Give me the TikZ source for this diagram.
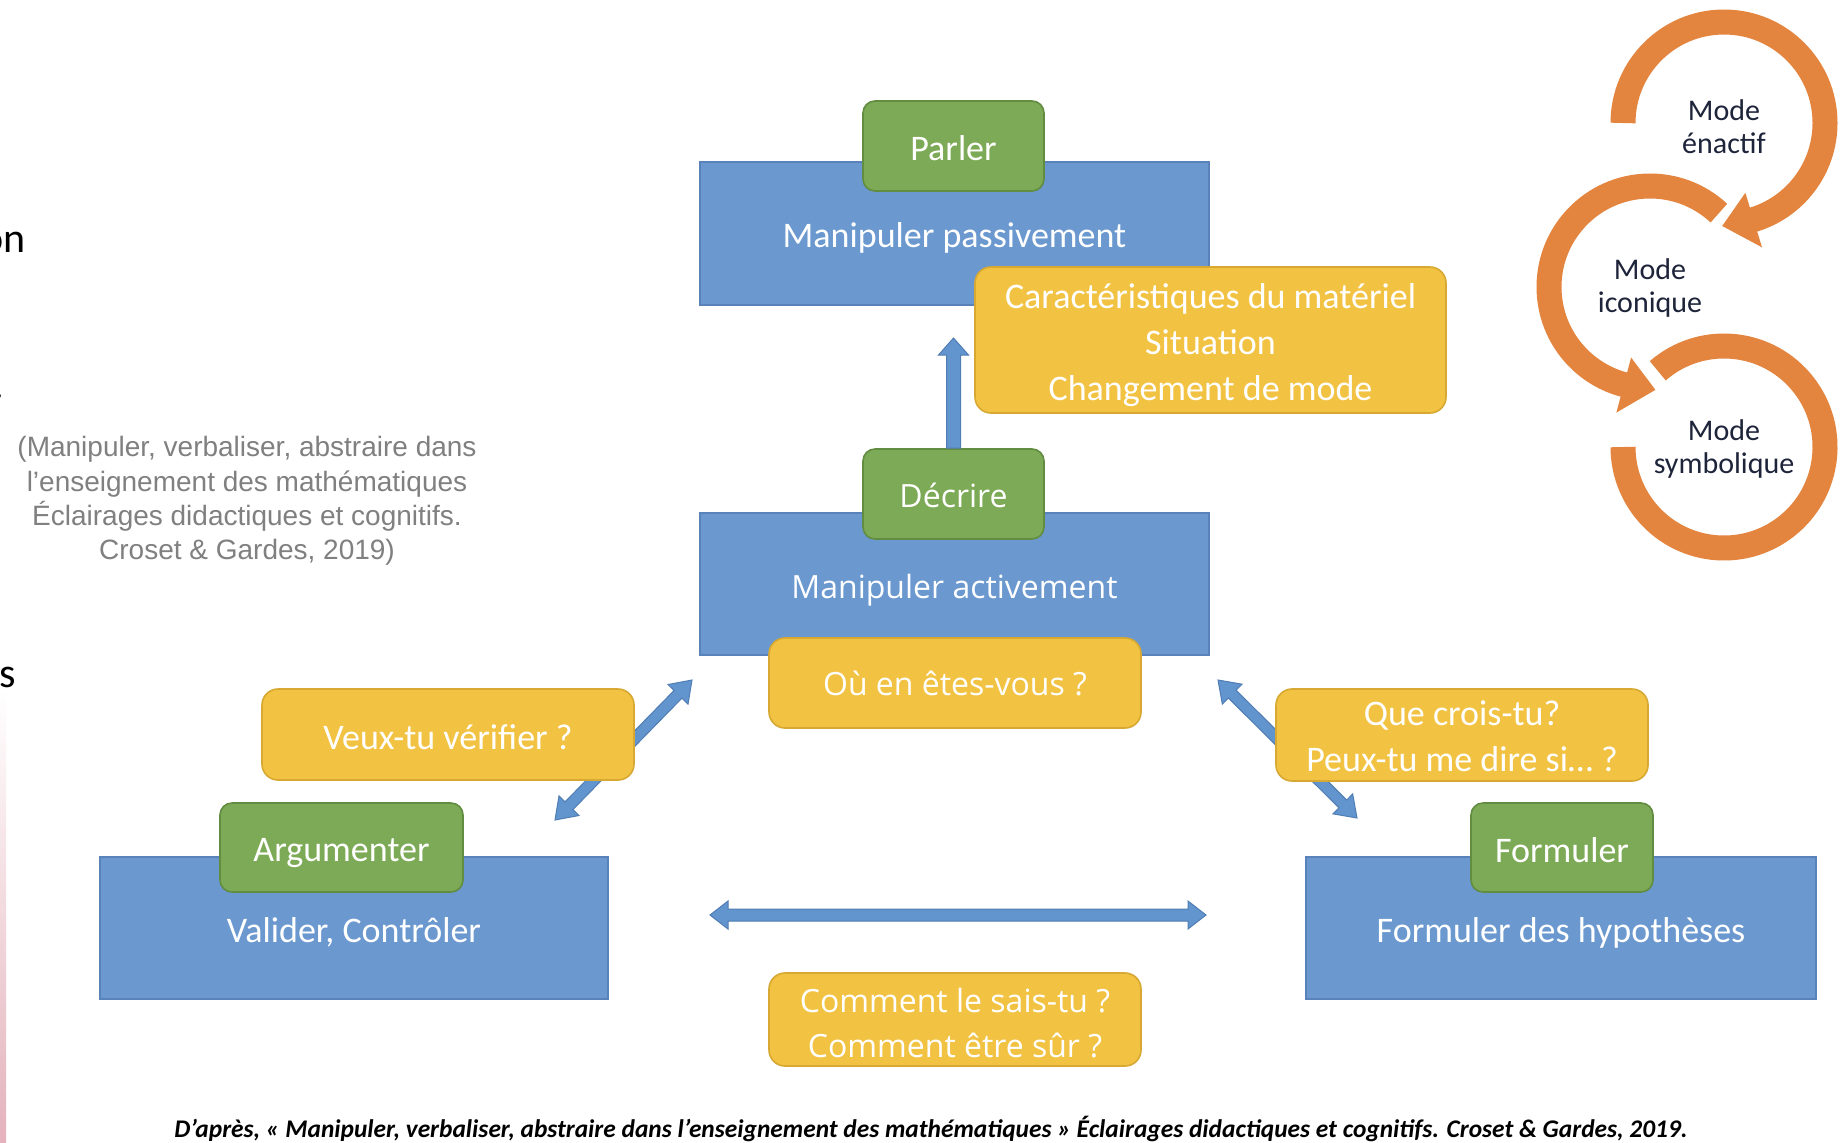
\documentclass[tikz,border=0pt]{standalone}
\usepackage{fontspec}
\setmainfont{Carlito}
\newfontfamily\osans{Open Sans}
\newfontfamily\arialf{Liberation Sans}
\usetikzlibrary{calc}
\definecolor{boxblue}{RGB}{106,152,207}
\definecolor{boxblueedge}{RGB}{88,130,185}
\definecolor{boxgreen}{RGB}{125,170,86}
\definecolor{boxgreenedge}{RGB}{98,140,64}
\definecolor{boxyellow}{RGB}{242,194,66}
\definecolor{boxyellowedge}{RGB}{215,168,50}
\definecolor{arrowblue}{RGB}{98,148,206}
\definecolor{arrowedge}{RGB}{80,125,180}
\definecolor{cycorange}{RGB}{227,132,63}
\definecolor{cyctext}{RGB}{30,36,58}
\definecolor{citegray}{RGB}{128,128,128}
\definecolor{stripink}{RGB}{228,178,188}

\newcommand\dblarrow[5]{%
 \filldraw[fill=arrowblue,draw=arrowedge,line width=0.5pt,line join=miter]
  let \p1=(#1), \p2=(#2), \n1={atan2(\y2-\y1,\x2-\x1)} in
  (\p1) -- ($(\p1)+(\n1:#5)+(\n1+90:#4)$) -- ($(\p1)+(\n1:#5)+(\n1+90:#3)$)
  -- ($(\p2)+(\n1+180:#5)+(\n1+90:#3)$) -- ($(\p2)+(\n1+180:#5)+(\n1+90:#4)$) -- (\p2)
  -- ($(\p2)+(\n1+180:#5)+(\n1-90:#4)$) -- ($(\p2)+(\n1+180:#5)+(\n1-90:#3)$)
  -- ($(\p1)+(\n1:#5)+(\n1-90:#3)$) -- ($(\p1)+(\n1:#5)+(\n1-90:#4)$) -- cycle;}
\newcommand\sglarrow[5]{%
 \filldraw[fill=arrowblue,draw=arrowedge,line width=0.5pt,line join=miter]
  let \p1=(#1), \p2=(#2), \n1={atan2(\y2-\y1,\x2-\x1)} in
  ($(\p1)+(\n1+90:#3)$) -- ($(\p2)+(\n1+180:#5)+(\n1+90:#3)$) -- ($(\p2)+(\n1+180:#5)+(\n1+90:#4)$) -- (\p2)
  -- ($(\p2)+(\n1+180:#5)+(\n1-90:#4)$) -- ($(\p2)+(\n1+180:#5)+(\n1-90:#3)$)
  -- ($(\p1)+(\n1-90:#3)$) -- cycle;}

\tikzset{
 bluebox/.style={draw=boxblueedge, line width=0.6pt, fill=boxblue, text=white, inner sep=0pt, align=center, font=\fontsize{18pt}{23pt}\selectfont},
 greenbox/.style={draw=boxgreenedge, line width=0.8pt, fill=boxgreen, rounded corners=6pt, text=white, inner sep=0pt, align=center, font=\fontsize{18pt}{23pt}\selectfont},
 yellowbox/.style={draw=boxyellowedge, line width=0.8pt, fill=boxyellow, rounded corners=8pt, text=white, inner sep=0pt, align=center, font=\fontsize{18pt}{23pt}\selectfont},
 osfont/.style={font=\osans\fontsize{16pt}{22.5pt}\selectfont},
 tb/.style={text height=#1, text depth=0pt},
 cyctxt/.style={text=cyctext, inner sep=0pt, align=center, font=\fontsize{15pt}{16.5pt}\selectfont},
 fragtxt/.style={inner sep=0pt, anchor=base east, font=\fontsize{21pt}{25pt}\selectfont},
 orangearc/.style={draw=cycorange, line width=12.5pt},
 haloarc/.style={draw=white, line width=15.5pt},
}

\begin{document}
\begin{tikzpicture}[x=0.5pt,y=-0.5pt]
\useasboundingbox (0,0) rectangle (1841,1142);
\fill[white] (0,0) rectangle (1841,1142);
\shade[top color=white, bottom color=stripink] (0,690) rectangle (6,1142);

% cut-off fragments at left edge
\node[fragtxt] (fragOn) at (26,252) {on};
\node[fragtxt] (fragDot) at (5,398) {.};
\node[fragtxt] (fragS) at (16,687) {s};

% citation
\node[font=\arialf\fontsize{14pt}{17.2pt}\selectfont, text=citegray, align=center, inner sep=0pt] (cite) at (247,501)
 {(Manipuler, verbaliser, abstraire dans\\l’enseignement des mathématiques\\Éclairages didactiques et cognitifs.\\Croset \& Gardes, 2019)};

% blue boxes
\node[bluebox, tb=14pt, minimum width=254.5pt, minimum height=71.5pt] (bTop) at (954.5,233.5) {Manipuler passivement};
\node[bluebox, osfont, tb=14.3pt, minimum width=254.5pt, minimum height=71pt] (bMid) at (954.5,584) {Manipuler activement};
\node[bluebox, tb=14.5pt, minimum width=254pt, minimum height=71pt] (bLeft) at (354,928) {Valider, Contrôler};
\node[bluebox, tb=14.5pt, minimum width=255pt, minimum height=71pt] (bRight) at (1561,928) {Formuler des hypothèses};

% green boxes
\node[greenbox, tb=14.8pt, minimum width=90.5pt, minimum height=45pt] (gParler) at (953.5,146) {Parler};
\node[greenbox, osfont, tb=13.7pt, minimum width=90.5pt, minimum height=45pt] (gDecrire) at (953.5,494) {Décrire};
\node[greenbox, tb=14.3pt, minimum width=121.5pt, minimum height=44.5pt] (gArg) at (341.5,847.5) {Argumenter};
\node[greenbox, tb=14.8pt, minimum width=91pt, minimum height=44.5pt] (gForm) at (1562,847.5) {Formuler};

% arrows
\coordinate (vTip) at (953.5,338);
\coordinate (ldA) at (692,680);
\coordinate (ldB) at (555,820);
\coordinate (rdA) at (1218,680);
\coordinate (rdB) at (1357,818);
\coordinate (hA) at (710,915);
\coordinate (hB) at (1206,915);
\sglarrow{gDecrire.north}{vTip}{3.5pt}{7.5pt}{8.5pt}
\dblarrow{ldA}{ldB}{2.75pt}{7pt}{10pt}
\dblarrow{rdA}{rdB}{2.75pt}{7pt}{10pt}
\dblarrow{hA}{hB}{3pt}{7pt}{9pt}

% yellow boxes
\node[yellowbox, tb=60.6pt, minimum width=235.5pt, minimum height=73pt] (yCar) at (1210.5,340) {Caractéristiques du matériel\\Situation\\Changement de mode};
\node[yellowbox, osfont, tb=12.5pt, minimum width=186pt, minimum height=45pt] (yOu) at (955,683) {Où en êtes-vous ?};
\node[yellowbox, tb=15pt, minimum width=186pt, minimum height=45.5pt] (yVeux) at (448,734.5) {Veux-tu vérifier ?};
\node[yellowbox, tb=36.8pt, minimum width=186pt, minimum height=46pt] (yQue) at (1462,735) {Que crois-tu?\\Peux-tu me dire si… ?};
\node[yellowbox, osfont, tb=37.6pt, minimum width=186pt, minimum height=46.5pt] (yComm) at (955,1019.5) {Comment le sais-tu ?\\Comment être sûr ?};

% cycle of modes
\coordinate (cE) at (1724,123);
\coordinate (cI) at (1650,287);
\coordinate (cS) at (1724,447);
% symbolique
\draw[haloarc] ($(cS)+(-131:101)$) arc[start angle=-131,end angle=180,radius=101];
\draw[orangearc] ($(cS)+(-131:101)$) arc[start angle=-131,end angle=180,radius=101];
% iconique
\draw[haloarc] ($(cI)+(-47:101)$) arc[start angle=-47,end angle=-256,radius=101];
\filldraw[white, line width=3pt, line join=miter] ($(cI)+(-255:73)$) -- ($(cI)+(-255:130)$) -- ($(cI)+(-273:103)$) -- cycle;
\draw[orangearc] ($(cI)+(-47:101)$) arc[start angle=-47,end angle=-256,radius=101];
\fill[cycorange] ($(cI)+(-255:73)$) -- ($(cI)+(-255:130)$) -- ($(cI)+(-273:103)$) -- cycle;
% enactif
\draw[haloarc] ($(cE)+(-180:101)$) arc[start angle=-180,end angle=74,radius=101];
\filldraw[white, line width=3pt, line join=miter] ($(cE)+(73:73)$) -- ($(cE)+(73:130)$) -- ($(cE)+(91:103)$) -- cycle;
\draw[orangearc] ($(cE)+(-180:101)$) arc[start angle=-180,end angle=74,radius=101];
\fill[cycorange] ($(cE)+(73:73)$) -- ($(cE)+(73:130)$) -- ($(cE)+(91:103)$) -- cycle;

\node[cyctxt, yshift=-1.7pt] (tE) at (cE) {Mode\\énactif};
\node[cyctxt, yshift=-0.6pt] (tI) at (cI) {Mode\\iconique};
\node[cyctxt, yshift=-0.9pt] (tS) at (cS) {Mode\\symbolique};

% caption
\node[font=\bfseries\itshape\fontsize{12.7pt}{15pt}\selectfont, inner sep=0pt] (caption) at (931,1129)
 {D’après, « Manipuler, verbaliser, abstraire dans l’enseignement des mathématiques » Éclairages didactiques et cognitifs. Croset \& Gardes, 2019.};
\end{tikzpicture}
\end{document}
